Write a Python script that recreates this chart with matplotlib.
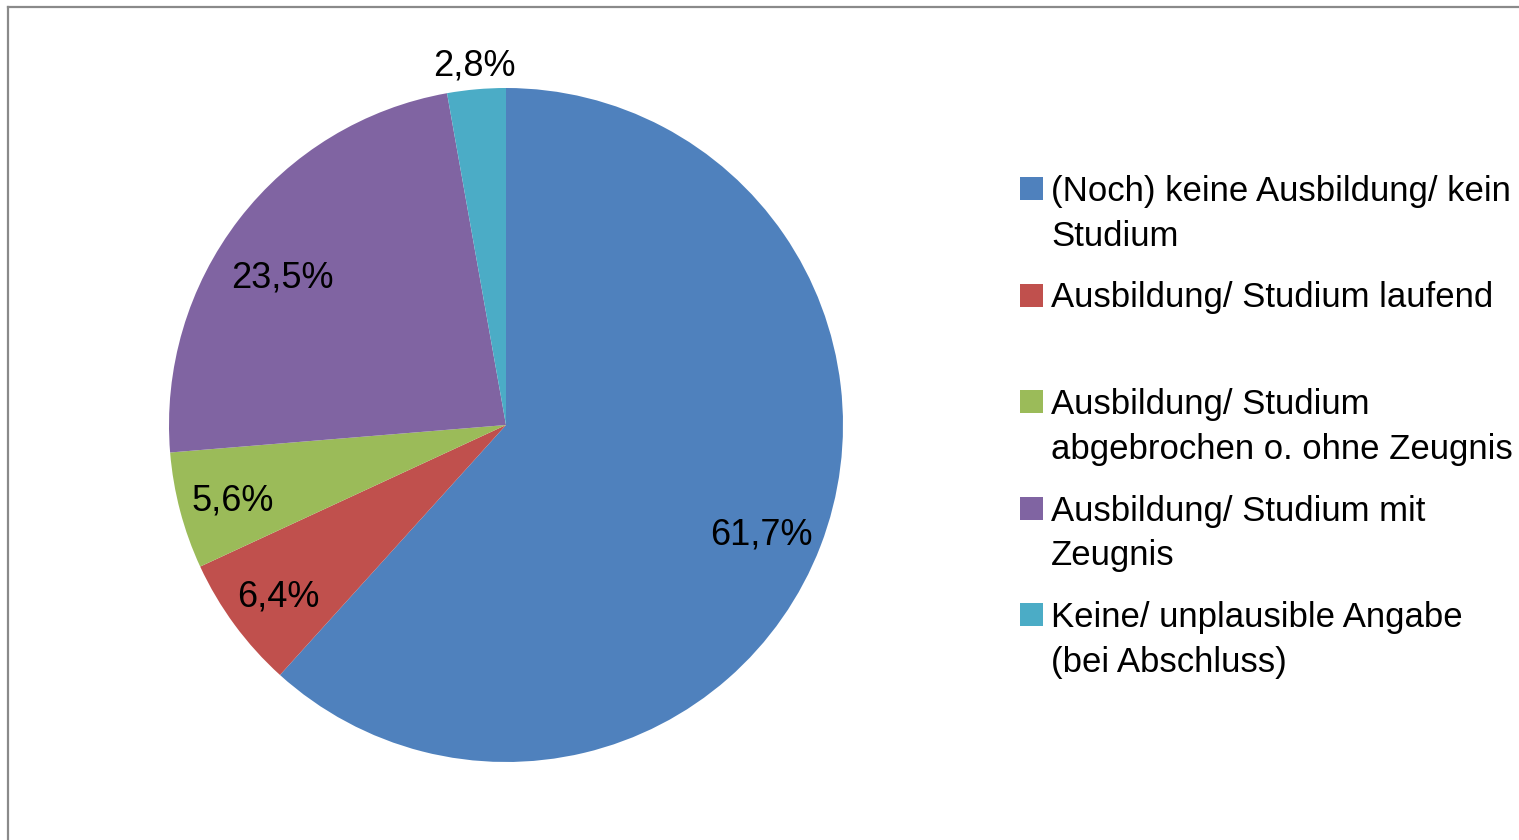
import matplotlib.pyplot as plt
import numpy as np
from matplotlib.lines import Line2D
from matplotlib.patches import Rectangle

plt.rcParams['font.family'] = ['Liberation Sans', 'DejaVu Sans']

# data
categories = ['(Noch) keine Ausbildung/ kein\nStudium',
              'Ausbildung/ Studium laufend',
              'Ausbildung/ Studium\nabgebrochen o. ohne Zeugnis',
              'Ausbildung/ Studium mit\nZeugnis',
              'Keine/ unplausible Angabe\n(bei Abschluss)']
shares = [61.7, 6.4, 5.6, 23.5, 2.8]
colors = ['#4F81BD', '#C0504D', '#9BBB59', '#8064A2', '#4BACC6']

# label placement: distance (fraction of radius) and angle nudge (deg)
label_dist = [0.82, 0.84, 0.84, 0.80, 1.08]
label_turn = [-1.6, 0, 0, 3.5, 0]

W, H = 1519, 840
fig = plt.figure(figsize=(W / 100, H / 100), dpi=100)

# pie axes: centre (506, 425) px, radius 337 px
cx, cy, r = 506, 425, 337
ax = fig.add_axes([(cx - r) / W, (H - cy - r) / H, 2 * r / W, 2 * r / H])

wedges, texts, autotexts = ax.pie(
    shares, colors=colors, startangle=90, counterclock=False,
    autopct=lambda p: f'{p:.1f}%'.replace('.', ','),
    pctdistance=0.82, wedgeprops=dict(linewidth=0),
    textprops=dict(fontsize=26, color='black'))
ax.set_xlim(-1, 1)
ax.set_ylim(-1, 1)
ax.set_aspect('auto')

for w, t, d, turn in zip(wedges, autotexts, label_dist, label_turn):
    mid = np.deg2rad((w.theta1 + w.theta2) / 2 + turn)
    t.set_position((d * np.cos(mid), d * np.sin(mid)))
    t.set_va('center_baseline')

# chart frame (cut off at right / bottom)
fig.add_artist(Line2D([8 / W, 8 / W], [0, 1 - 7 / H], transform=fig.transFigure,
                      color='#8a8a8a', linewidth=1.6))
fig.add_artist(Line2D([8 / W, 1], [1 - 7 / H, 1 - 7 / H], transform=fig.transFigure,
                      color='#8a8a8a', linewidth=1.6))

# legend, entries on a fixed pitch, marker on first line
for i, (lab, col) in enumerate(zip(categories, colors)):
    base = 201 + 106.5 * i
    fig.add_artist(Rectangle((1020 / W, 1 - (base - 1) / H), 23 / W, 23 / H,
                             transform=fig.transFigure, facecolor=col,
                             edgecolor='none'))
    for j, line in enumerate(lab.split('\n')):
        fig.text(1051 / W, 1 - (base + 45 * j) / H, line, fontsize=25,
                 va='baseline', ha='left')

fig.savefig('out.png', dpi=100)
